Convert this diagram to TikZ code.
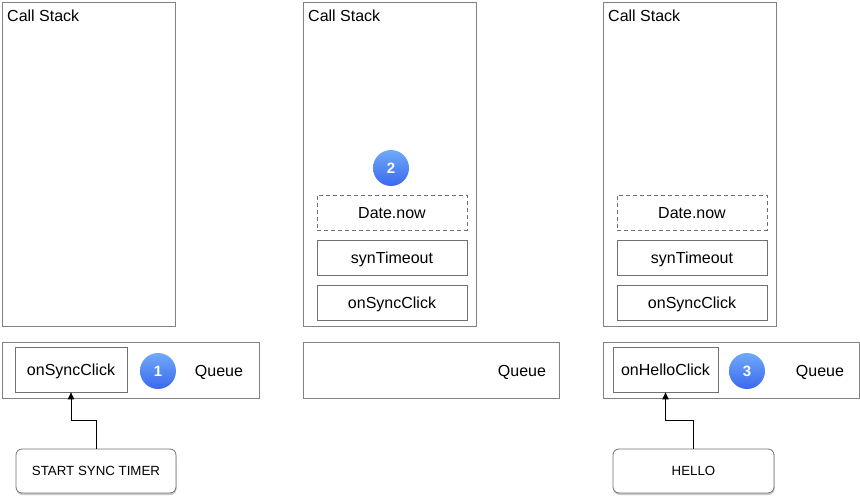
\documentclass[tikz,border=0pt]{standalone}
\usepackage{fontspec}
\setmainfont{Liberation Sans}
\usetikzlibrary{shadows,arrows.meta,calc}
\definecolor{edgegray}{HTML}{828282}
\definecolor{innergray}{HTML}{707070}
\definecolor{ctop}{HTML}{6FAAFA}
\definecolor{cbot}{HTML}{3B68EE}
\begin{document}
\begin{tikzpicture}[x=1pt,y=-1pt,
  panel/.style={draw=edgegray, line width=1pt, anchor=north west, inner sep=0, minimum width=#1},
  item/.style={draw=innergray, line width=0.8pt, inner sep=0, minimum width=#1, minimum height=35, text height=12, text depth=0, font=\fontsize{16}{19}\selectfont},
  lbl/.style={inner sep=0, font=\fontsize{16}{19}\selectfont},
  qlbl/.style={lbl, text height=12, text depth=0},
  badge/.style={circle, minimum size=36, inner sep=0, top color=ctop, bottom color=cbot, draw=none, text=white, font=\fontsize{15}{18}\selectfont\bfseries},
  button/.style={draw=innergray, line width=0.8pt, fill=white, rounded corners=6, minimum width=#1, minimum height=44, inner sep=0, text height=9.5, text depth=0, font=\fontsize{13.3}{16}\selectfont, drop shadow={shadow xshift=0.5pt, shadow yshift=-2pt, opacity=0.35, fill=black!60}},
  conn/.style={line width=0.9pt, -{Triangle[length=7,width=6.5]}}
]
\useasboundingbox (0,0) rectangle (860,500);
% Panel 1
\node[panel=173, minimum height=324] (cs1) at (2,2) {};
\node[lbl, anchor=base west] (cs1t) at (7,22) {Call Stack};
\node[panel=257, minimum height=56] (q1) at (2,342) {};
\node[qlbl] (q1t) at (219,370) {Queue};
\node[item=112, minimum height=45] (i1) at (71,369.5) {onSyncClick};
\node[badge] (b1) at (158,371) {1};
\node[button=160] (btn1) at (96,471) {START SYNC TIMER};
\draw[conn] (btn1.north) |- ($(i1.south)+(0,28)$) -- (i1.south);
% Panel 2
\node[panel=173, minimum height=324] (cs2) at (303,2) {};
\node[lbl, anchor=base west] (cs2t) at (308,22) {Call Stack};
\node[panel=256, minimum height=56] (q2) at (303,342) {};
\node[qlbl] (q2t) at (522,370) {Queue};
\node[badge] (b2) at (391,168) {2};
\node[item=150, dash pattern=on 4pt off 3pt] (d2) at (392,212.5) {Date.now};
\node[item=150] (s2) at (392,257.5) {synTimeout};
\node[item=150] (o2) at (392,302.5) {onSyncClick};
% Panel 3
\node[panel=173, minimum height=324] (cs3) at (603,2) {};
\node[lbl, anchor=base west] (cs3t) at (608,22) {Call Stack};
\node[panel=256, minimum height=56] (q3) at (603,342) {};
\node[qlbl] (q3t) at (820,370) {Queue};
\node[badge] (b3) at (747,371) {3};
\node[item=150, dash pattern=on 4pt off 3pt] (d3) at (692,212.5) {Date.now};
\node[item=150] (s3) at (692,257.5) {synTimeout};
\node[item=150] (o3) at (692,302.5) {onSyncClick};
\node[item=105, minimum height=45] (i3) at (665.5,369.5) {onHelloClick};
\node[button=161] (btn3) at (693.5,471) {HELLO};
\draw[conn] (btn3.north) |- ($(i3.south)+(0,28)$) -- (i3.south);
\end{tikzpicture}
\end{document}
